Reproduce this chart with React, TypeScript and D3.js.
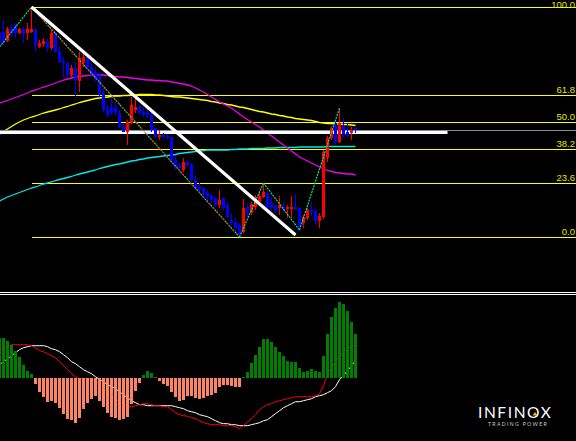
import React from "react";
import * as d3 from "d3";

const W = 576;
const H = 441;

// ---- candles (index 0..89) ----
const openP = [
  1.1205, 1.1205, 1.1196, 1.1209, 1.1212, 1.1204, 1.1208, 1.1204, 1.1205, 1.1208,
  1.1190, 1.1193, 1.1196, 1.1189, 1.1204, 1.1186, 1.1176, 1.1174, 1.1162, 1.1169,
  1.1156, 1.1175, 1.1180, 1.1170, 1.1165, 1.1162, 1.1144, 1.1128, 1.1130, 1.1130,
  1.1124, 1.1110, 1.1105, 1.1114, 1.1127, 1.1130, 1.1125, 1.1125, 1.1122, 1.1109,
  1.1100, 1.1102, 1.1101, 1.1100, 1.1077, 1.1072, 1.1067, 1.1075, 1.1073, 1.1057,
  1.1050, 1.1049, 1.1044, 1.1042, 1.1039, 1.1032, 1.1039, 1.1032, 1.1017, 1.1015,
  1.1012, 1.1005, 1.1030, 1.1024, 1.1030, 1.1035, 1.1040, 1.1044, 1.1034, 1.1031,
  1.1029, 1.1031, 1.1028, 1.1028, 1.1030, 1.1029, 1.1014, 1.1019, 1.1027, 1.1026,
  1.1016, 1.1020, 1.1079, 1.1099, 1.1114, 1.1095, 1.1111, 1.1105, 1.1104, 1.1109,
];
const highP = [
  1.1207, 1.1217, 1.1210, 1.1213, 1.1214, 1.1209, 1.1210, 1.1214, 1.1230, 1.1209,
  1.1197, 1.1199, 1.1198, 1.1207, 1.1205, 1.1190, 1.1180, 1.1175, 1.1172, 1.1175,
  1.1185, 1.1184, 1.1182, 1.1175, 1.1169, 1.1164, 1.1149, 1.1132, 1.1139, 1.1135,
  1.1127, 1.1114, 1.1117, 1.1140, 1.1141, 1.1132, 1.1129, 1.1129, 1.1124, 1.1109,
  1.1107, 1.1104, 1.1102, 1.1100, 1.1082, 1.1074, 1.1079, 1.1077, 1.1074, 1.1062,
  1.1054, 1.1050, 1.1047, 1.1044, 1.1040, 1.1047, 1.1040, 1.1034, 1.1024, 1.1019,
  1.1014, 1.1038, 1.1034, 1.1035, 1.1042, 1.1044, 1.1054, 1.1045, 1.1040, 1.1032,
  1.1041, 1.1034, 1.1032, 1.1041, 1.1043, 1.1030, 1.1022, 1.1029, 1.1035, 1.1028,
  1.1024, 1.1087, 1.1101, 1.1111, 1.1116, 1.1129, 1.1119, 1.1114, 1.1110, 1.1111,
];
const lowP = [
  1.1192, 1.1192, 1.1195, 1.1200, 1.1199, 1.1203, 1.1194, 1.1197, 1.1204, 1.1186,
  1.1189, 1.1190, 1.1185, 1.1187, 1.1184, 1.1174, 1.1160, 1.1160, 1.1159, 1.1140,
  1.1145, 1.1170, 1.1167, 1.1160, 1.1155, 1.1140, 1.1125, 1.1120, 1.1122, 1.1122,
  1.1109, 1.1105, 1.1092, 1.1113, 1.1124, 1.1122, 1.1120, 1.1119, 1.1105, 1.1099,
  1.1097, 1.1099, 1.1097, 1.1074, 1.1067, 1.1067, 1.1065, 1.1070, 1.1055, 1.1047,
  1.1044, 1.1039, 1.1035, 1.1034, 1.1030, 1.1029, 1.1027, 1.1019, 1.1012, 1.1005,
  1.1000, 1.1004, 1.1020, 1.1022, 1.1027, 1.1033, 1.1039, 1.1027, 1.1026, 1.1024,
  1.1022, 1.1026, 1.1019, 1.1019, 1.1027, 1.1007, 1.1009, 1.1017, 1.1021, 1.1012,
  1.1009, 1.1018, 1.1075, 1.1097, 1.1093, 1.1094, 1.1100, 1.1100, 1.1097, 1.1104,
];
const closeP = [
  1.1194, 1.1194, 1.1208, 1.1204, 1.1204, 1.1208, 1.1203, 1.1208, 1.1208, 1.1192,
  1.1194, 1.1196, 1.1189, 1.1204, 1.1185, 1.1175, 1.1174, 1.1162, 1.1169, 1.1157,
  1.1179, 1.1180, 1.1169, 1.1162, 1.1157, 1.1142, 1.1127, 1.1122, 1.1124, 1.1125,
  1.1110, 1.1105, 1.1115, 1.1132, 1.1130, 1.1124, 1.1122, 1.1122, 1.1107, 1.1100,
  1.1102, 1.1100, 1.1099, 1.1077, 1.1070, 1.1069, 1.1075, 1.1072, 1.1057, 1.1049,
  1.1047, 1.1042, 1.1040, 1.1037, 1.1032, 1.1037, 1.1029, 1.1020, 1.1014, 1.1009,
  1.1002, 1.1029, 1.1024, 1.1033, 1.1038, 1.1041, 1.1045, 1.1030, 1.1029, 1.1026,
  1.1032, 1.1027, 1.1030, 1.1030, 1.1028, 1.1009, 1.1020, 1.1027, 1.1025, 1.1016,
  1.1021, 1.1085, 1.1099, 1.1109, 1.1095, 1.1114, 1.1102, 1.1101, 1.1107, 1.1107,
];

// ---- moving averages ----
const maMagenta = [
  1.11340, 1.11350, 1.11365, 1.11380, 1.11395, 1.11410, 1.11425, 1.11440, 1.11460, 1.11470,
  1.11485, 1.11500, 1.11510, 1.11525, 1.11540, 1.11555, 1.11570, 1.11580, 1.11590, 1.11600,
  1.11605, 1.11610, 1.11615, 1.11620, 1.11620, 1.11620, 1.11620, 1.11615, 1.11610, 1.11605,
  1.11600, 1.11600, 1.11595, 1.11590, 1.11585, 1.11580, 1.11575, 1.11570, 1.11570, 1.11565,
  1.11565, 1.11560, 1.11560, 1.11550, 1.11545, 1.11535, 1.11530, 1.11520, 1.11510, 1.11490,
  1.11470, 1.11450, 1.11425, 1.11400, 1.11375, 1.11350, 1.11330, 1.11310, 1.11290, 1.11260,
  1.11230, 1.11200, 1.11175, 1.11150, 1.11125, 1.11100, 1.11070, 1.11040, 1.11010, 1.10980,
  1.10950, 1.10920, 1.10890, 1.10860, 1.10830, 1.10800, 1.10780, 1.10760, 1.10740, 1.10720,
  1.10700, 1.10680, 1.10665, 1.10655, 1.10645, 1.10640, 1.10635, 1.10630, 1.10630, 1.10620,
];
const maYellow = [
  1.11030, 1.11055, 1.11080, 1.11105, 1.11130, 1.11150, 1.11170, 1.11185, 1.11200, 1.11210,
  1.11225, 1.11240, 1.11250, 1.11260, 1.11270, 1.11280, 1.11295, 1.11305, 1.11320, 1.11330,
  1.11345, 1.11355, 1.11365, 1.11375, 1.11385, 1.11390, 1.11395, 1.11400, 1.11405, 1.11410,
  1.11410, 1.11415, 1.11415, 1.11420, 1.11420, 1.11425, 1.11425, 1.11425, 1.11425, 1.11420,
  1.11420, 1.11415, 1.11410, 1.11405, 1.11400, 1.11400, 1.11395, 1.11390, 1.11385, 1.11380,
  1.11375, 1.11370, 1.11365, 1.11355, 1.11350, 1.11340, 1.11335, 1.11325, 1.11320, 1.11310,
  1.11300, 1.11295, 1.11285, 1.11275, 1.11265, 1.11255, 1.11250, 1.11240, 1.11230, 1.11225,
  1.11215, 1.11210, 1.11200, 1.11195, 1.11185, 1.11180, 1.11175, 1.11170, 1.11165, 1.11155,
  1.11145, 1.11140, 1.11135, 1.11135, 1.11130, 1.11130, 1.11125, 1.11125, 1.11120, 1.11115,
];
const maCyan = [
  1.10360, 1.10380, 1.10400, 1.10415, 1.10430, 1.10445, 1.10460, 1.10475, 1.10490, 1.10500,
  1.10515, 1.10530, 1.10540, 1.10550, 1.10565, 1.10575, 1.10585, 1.10595, 1.10605, 1.10620,
  1.10630, 1.10640, 1.10650, 1.10660, 1.10670, 1.10685, 1.10695, 1.10705, 1.10715, 1.10725,
  1.10730, 1.10740, 1.10750, 1.10760, 1.10765, 1.10775, 1.10780, 1.10790, 1.10795, 1.10800,
  1.10805, 1.10810, 1.10815, 1.10820, 1.10825, 1.10835, 1.10840, 1.10845, 1.10850, 1.10855,
  1.10860, 1.10865, 1.10870, 1.10870, 1.10870, 1.10870, 1.10870, 1.10870, 1.10875, 1.10875,
  1.10880, 1.10880, 1.10880, 1.10885, 1.10885, 1.10885, 1.10885, 1.10890, 1.10890, 1.10890,
  1.10895, 1.10895, 1.10895, 1.10895, 1.10895, 1.10900, 1.10900, 1.10900, 1.10900, 1.10900,
  1.10900, 1.10900, 1.10905, 1.10905, 1.10905, 1.10905, 1.10905, 1.10905, 1.10905, 1.10905,
];

// ---- zigzag pivots [index, price] ----
const zigzagPivots: [number, number][] = [
  [0, 1.1190], [8, 1.1230], [60, 1.1000], [66, 1.1054], [75, 1.1007], [85, 1.1129],
];
// ---- drawn objects ----
const trendLine: [number, number][] = [[8, 1.1230], [74, 1.1002]];
const supportLevel = 1.1105;
const supportSpan: [number, number] = [-1, 112];
const currentPrice = 1.1107;

// ---- fibonacci ----
const fibHigh = 1.1230;
const fibLow = 1.1000;
const fibStartIndex = 8;
const fibLevels = [100.0, 61.8, 50.0, 38.2, 23.6, 0.0];

// ---- MACD-style oscillator ----
const histogram = [
  40, 40, 37, 33, 27, 21, 13, 7, 4, -6,
  -14, -19, -24, -23, -25, -30, -36, -41, -42, -45,
  -40, -31, -25, -21, -18, -23, -29, -35, -39, -40,
  -42, -41, -39, -26, -13, -5, 3, 7, 5, 1,
  -3, -6, -8, -14, -19, -23, -22, -18, -18, -20,
  -21, -20, -18, -17, -15, -9, -7, -7, -8, -9,
  -9, 1, 6, 15, 23, 31, 39, 39, 36, 31,
  26, 22, 17, 16, 16, 10, 6, 7, 9, 7,
  6, 22, 44, 61, 70, 76, 74, 67, 56, 44,
];
const macdLine = [
  13, 16, 19, 22, 25, 28, 30, 31, 32, 32,
  32, 32, 31, 29, 28, 26, 23, 20, 16, 14,
  11, 8, 6, 4, 1, -2, -4, -7, -9, -11,
  -14, -17, -20, -23, -25, -27, -27, -28, -28, -28,
  -28, -28, -28, -28, -29, -30, -31, -33, -34, -35,
  -37, -38, -39, -41, -43, -45, -46, -46, -47, -47,
  -48, -48, -48, -47, -46, -45, -43, -42, -39, -36,
  -33, -30, -28, -26, -24, -24, -23, -22, -21, -19,
  -18, -17, -15, -13, -9, -2, 2, 7, 12, 17,
];
const signalLine = [
  28, 30, 31, 33, 33, 33, 33, 33, 32, 30,
  27, 26, 24, 22, 20, 16, 12, 8, 4, 1,
  -1, -1, -1, -2, -3, -7, -11, -15, -18, -22,
  -24, -27, -29, -29, -28, -27, -26, -26, -27, -28,
  -28, -29, -29, -32, -35, -37, -38, -38.5, -40, -41,
  -43, -45, -46, -47, -47, -47, -48, -48, -48, -49,
  -51, -48, -44, -41, -37, -32, -29, -27, -26, -24,
  -23, -22, -21, -20, -19, -19, -19, -19, -19, -18,
  -16, -8, 4, 10, 16, 22, 26, 29, 31, 33,
];

const x = d3.scaleLinear().domain([0, 89]).range([-0.5, 355.5]);
const y = d3.scaleLinear().domain([fibLow, fibHigh]).range([237, 7]);
const yM = d3.scaleLinear().domain([-60, 90]).range([437.7, 287.7]);

const idx = d3.range(openP.length);

function maPath(vals: number[]) {
  return d3
    .line<number>()
    .x((_, i) => x(i))
    .y((v) => y(v))(vals) as string;
}
function oscPath(vals: number[]) {
  return d3
    .line<number>()
    .x((_, i) => x(i))
    .y((v) => yM(v))(vals) as string;
}
const pivotLine = d3
  .line<[number, number]>()
  .x((d) => x(d[0]))
  .y((d) => y(d[1]));

export default function App() {
  const fibY = (lvl: number) => Math.round(y(fibLow + ((fibHigh - fibLow) * lvl) / 100)) + 0.5;
  const legs: [number, number][][] = [];
  for (let i = 0; i < zigzagPivots.length - 1; i++) {
    legs.push([zigzagPivots[i], zigzagPivots[i + 1]]);
  }
  const bigDown = [zigzagPivots[1], zigzagPivots[2]];
  const zero = yM(0);
  return (
    <svg
      width={W}
      height={H}
      style={{ position: "absolute", left: 0, top: 0, display: "block", background: "#000" }}
    >
      <rect x={0} y={0} width={W} height={H} fill="#000" />
      <defs>
        <clipPath id="mainClip">
          <rect x={0} y={0} width={W} height={290} />
        </clipPath>
      </defs>
      <g clipPath="url(#mainClip)">
        {/* fib lines */}
        {fibLevels.map((lvl) => (
          <g key={lvl}>
            <line
              x1={x(fibStartIndex)}
              x2={W}
              y1={fibY(lvl)}
              y2={fibY(lvl)}
              stroke="#ffff00"
              strokeWidth={1}
              shapeRendering="crispEdges"
            />
            <text
              x={575}
              y={lvl === 100 ? 7.5 : fibY(lvl) - 2.5}
              textAnchor="end"
              fontFamily="'Liberation Sans', Arial, sans-serif"
              fontSize={9.5}
              fill="#e4e800"
            >
              {lvl.toFixed(1)}
            </text>
          </g>
        ))}
        {/* moving averages */}
        <path d={maPath(maCyan)} fill="none" stroke="#00e8e8" strokeWidth={1.3} />
        <path d={maPath(maYellow)} fill="none" stroke="#ffff00" strokeWidth={1.3} />
        <path d={maPath(maMagenta)} fill="none" stroke="#ee00ee" strokeWidth={1.3} />
        {/* current price line */}
        <line
          x1={0}
          x2={W}
          y1={Math.round(y(currentPrice)) + 0.5}
          y2={Math.round(y(currentPrice)) + 0.5}
          stroke="#8090a8"
          strokeWidth={1}
          shapeRendering="crispEdges"
        />
        {/* support horizontal */}
        <line
          x1={x(supportSpan[0])}
          x2={x(supportSpan[1])}
          y1={y(supportLevel) + 0.5}
          y2={y(supportLevel) + 0.5}
          stroke="#ffffff"
          strokeWidth={3}
        />
        {/* candles */}
        {idx.map((i) => {
          const up = closeP[i] >= openP[i];
          const col = up ? "#ff0000" : "#0000ff";
          const cx = x(i);
          const top = y(Math.max(openP[i], closeP[i]));
          const bot = y(Math.min(openP[i], closeP[i]));
          return (
            <g key={i} shapeRendering="crispEdges">
              <rect x={cx - 0.5} y={y(highP[i])} width={1} height={y(lowP[i]) - y(highP[i])} fill={col} />
              <rect x={cx - 1.5} y={top} width={3} height={Math.max(1, bot - top)} fill={col} />
            </g>
          );
        })}
        {/* zigzag */}
        {legs.map((seg, i) => (
          <path key={"z" + i} d={pivotLine(seg) as string} fill="none" stroke="#19e07c" strokeWidth={1.2} strokeDasharray="2 1" />
        ))}
        <path d={pivotLine(bigDown) as string} fill="none" stroke="#ff1010" strokeWidth={1.2} strokeDasharray="2 3" />
        {/* trend line */}
        <path d={pivotLine(trendLine) as string} fill="none" stroke="#ffffff" strokeWidth={3.2} />
      </g>

      {/* pane separator */}
      <line x1={0} x2={W} y1={292.5} y2={292.5} stroke="#fff" strokeWidth={1} />
      <line x1={0} x2={W} y1={294.5} y2={294.5} stroke="#fff" strokeWidth={1} />

      {/* oscillator */}
      <path d={oscPath(macdLine)} fill="none" stroke="#ffffff" strokeWidth={1} />
      <path d={oscPath(signalLine)} fill="none" stroke="#ff0000" strokeWidth={1} />
      {histogram.map((v, i) => {
        const yy = yM(v);
        return (
          <rect
            key={i}
            x={x(i) - 1.5}
            y={Math.min(yy, zero)}
            width={3}
            height={Math.max(0.8, Math.abs(yy - zero))}
            fill={v >= 0 ? "#008000" : "#ff8466"}
            shapeRendering="crispEdges"
          />
        );
      })}

      {/* logo */}
      <text
        x={478}
        y={418}
        fontFamily="Lato, 'Open Sans', sans-serif"
        fontSize={15.5}
        letterSpacing={1.6}
        fill="#ffffff"
      >
        INFINOX
      </text>
      <path d="M532.5,415.5 L535,412 L537.5,415.5 Z" fill="#f0c000" />
      <text
        x={488}
        y={426}
        fontFamily="Lato, 'Open Sans', sans-serif"
        fontSize={5.2}
        letterSpacing={1.3}
        fill="#cfcfcf"
      >
        TRADING POWER
      </text>
    </svg>
  );
}
